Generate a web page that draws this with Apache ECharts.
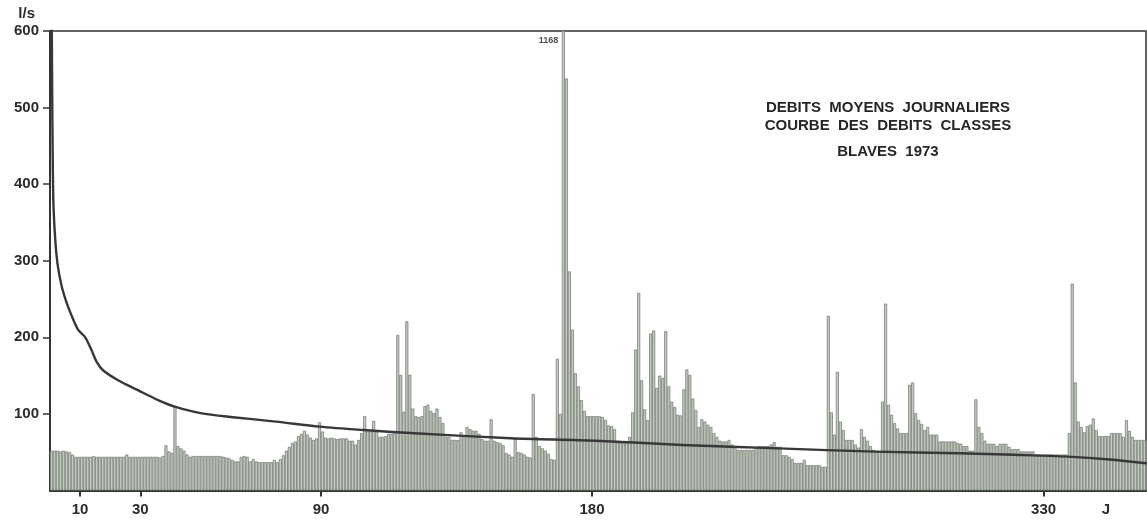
<!DOCTYPE html>
<html>
<head>
<meta charset="utf-8">
<script src="https://cdn.jsdelivr.net/npm/echarts@6/dist/echarts.min.js"></script>
<style>
  html, body { margin: 0; padding: 0; background: #fff; }
  #chart { width: 1147px; height: 520px; }
</style>
</head>
<body>
<div id="chart"></div>
<script>
// Daily mean flows (l/s), 1973, day index 0..364
const dailyFlow = [
  52, 52, 52, 51, 52, 51, 50, 47, 44, 44,
  44, 44, 44, 44, 45, 44, 44, 44, 44, 44,
  44, 44, 44, 44, 44, 47, 44, 44, 44, 44,
  44, 44, 44, 44, 44, 44, 43, 45, 59, 51,
  49, 110, 58, 55, 52, 47, 44, 45, 45, 45,
  45, 45, 45, 45, 45, 45, 45, 44, 43, 42,
  40, 38, 38, 44, 45, 44, 38, 41, 38, 37,
  37, 37, 37, 37, 40, 37, 41, 46, 52, 57,
  62, 64, 71, 74, 78, 73, 69, 66, 68, 89,
  77, 69, 68, 69, 68, 67, 68, 68, 68, 65,
  65, 60, 66, 75, 97, 77, 77, 91, 77, 70,
  70, 71, 74, 74, 75, 203, 151, 103, 221, 151,
  107, 97, 96, 97, 110, 112, 104, 101, 107, 96,
  88, 70, 70, 66, 66, 66, 76, 72, 83, 80,
  78, 78, 74, 67, 65, 65, 93, 65, 63, 62,
  59, 49, 47, 44, 67, 50, 49, 47, 44, 43,
  126, 70, 58, 55, 52, 48, 41, 40, 172, 100,
  1168, 538, 286, 210, 153, 136, 118, 104, 97, 97,
  97, 97, 97, 96, 92, 85, 84, 80, 62, 62,
  62, 62, 70, 102, 184, 258, 144, 106, 92, 205,
  209, 134, 150, 147, 208, 136, 116, 109, 99, 98,
  132, 158, 151, 120, 105, 83, 93, 90, 86, 83,
  75, 70, 65, 64, 64, 66, 60, 57, 53, 53,
  53, 53, 53, 53, 56, 58, 58, 58, 58, 60,
  63, 57, 57, 46, 46, 44, 41, 36, 36, 36,
  40, 33, 33, 33, 33, 33, 31, 31, 228, 102,
  73, 155, 90, 79, 66, 66, 66, 60, 56, 80,
  70, 65, 58, 53, 51, 51, 116, 244, 112, 99,
  88, 81, 75, 75, 75, 138, 141, 101, 92, 87,
  79, 83, 73, 73, 73, 64, 64, 64, 64, 64,
  64, 62, 61, 58, 58, 52, 52, 119, 83, 75,
  65, 61, 61, 61, 58, 61, 61, 61, 57, 54,
  54, 54, 51, 51, 51, 51, 51, 47, 47, 47,
  47, 47, 47, 47, 47, 47, 47, 47, 75, 270,
  141, 90, 83, 76, 84, 86, 94, 79, 71, 71,
  71, 71, 75, 75, 75, 75, 70, 92, 78, 70,
  66, 66, 66, 66, 66
];

// Flow-duration curve: [days exceeded, l/s]
const durationDays = [0.5, 0.6, 0.8, 1.1, 1.7, 2.5, 3.8, 5.2, 7.0, 9.3, 11.7, 13.7, 15.5, 17.6, 22.6, 29.2, 35.9, 41.4, 50, 60.8, 75, 89.6, 104, 121, 153, 181, 210, 242, 274, 302, 320, 338, 352, 364];
const durationFlow = [660, 600, 480, 380, 330, 296, 268, 249, 230, 210, 200, 184, 168, 157, 144, 131, 118, 109.5, 101, 95.7, 90, 83.4, 79, 74.7, 68.3, 65, 59.5, 55, 50.7, 48.6, 46.6, 44.2, 40.5, 35.5];

const xTickDays = [10, 30, 90, 180, 330];
const titleLines = ['DEBITS  MOYENS  JOURNALIERS', 'COURBE  DES  DEBITS  CLASSES', 'BLAVES  1973'];
const yUnit = 'l/s';
const xUnit = 'J';

const barData = dailyFlow.map((v, k) => [k + 0.5, v]);
const curveData = durationDays.map((d, i) => [d, durationFlow[i]]);
const peakValue = Math.max.apply(null, dailyFlow);
const peakIndex = dailyFlow.indexOf(peakValue);

const labelFont = { fontFamily: 'Liberation Sans', fontWeight: 'bold', fontSize: 15, color: '#2b2b2b' };

const chart = echarts.init(document.getElementById('chart'), null, { renderer: 'canvas' });
chart.setOption({
  animation: false,
  backgroundColor: '#ffffff',
  grid: { left: 50, right: 1, top: 31, bottom: 29.5, show: true, borderColor: '#333', borderWidth: 1.5, backgroundColor: 'transparent' },
  xAxis: {
    type: 'value', min: 0, max: 364,
    name: xUnit, nameLocation: 'end', nameGap: -40,
    nameTextStyle: Object.assign({}, labelFont, { align: 'center', verticalAlign: 'top', padding: [12, 0, 0, 0] }),
    axisLine: { lineStyle: { color: '#333', width: 2 } },
    axisTick: { show: true, length: 6, lineStyle: { color: '#333', width: 2 }, customValues: xTickDays },
    axisLabel: Object.assign({}, labelFont, { margin: 12, customValues: xTickDays }),
    splitLine: { show: false }
  },
  yAxis: {
    type: 'value', min: 0, max: 600, interval: 100,
    name: yUnit, nameLocation: 'end', nameGap: 10,
    nameTextStyle: Object.assign({}, labelFont, { align: 'right', verticalAlign: 'bottom', padding: [0, 15, 0, 0] }),
    axisLine: { show: true, lineStyle: { color: '#333', width: 2 } },
    axisTick: { show: true, length: 7, lineStyle: { color: '#333', width: 1.5 } },
    axisLabel: Object.assign({}, labelFont, { margin: 11, showMinLabel: false }),
    splitLine: { show: false }
  },
  series: [
    {
      name: 'daily', type: 'bar', data: barData, barCategoryGap: '0%', clip: true,
      itemStyle: { color: '#c2cbbf', borderColor: '#6f766d', borderWidth: 0.7 },
      z: 2
    },
    {
      name: 'duration', type: 'line', data: curveData, smooth: 0.3,
      symbol: 'none', clip: true,
      lineStyle: { color: '#383838', width: 2.4, cap: 'round', join: 'round' },
      z: 3
    },
    {
      name: 'peak', type: 'scatter', symbolSize: 0,
      data: [[peakIndex + 0.5, 587, peakValue]],
      label: { show: true, position: 'left', distance: 5, formatter: p => String(p.value[2]),
        fontFamily: 'Liberation Sans', fontWeight: 'bold', fontSize: 9, color: '#222' },
      z: 4
    }
  ],
  graphic: titleLines.map((t, i) => ({
    type: 'text', x: 888, y: [108, 126, 152][i],
    style: { text: t, align: 'center', verticalAlign: 'middle', font: 'bold 15px "Liberation Sans"', fill: '#262626' }
  }))
});
</script>
</body>
</html>
